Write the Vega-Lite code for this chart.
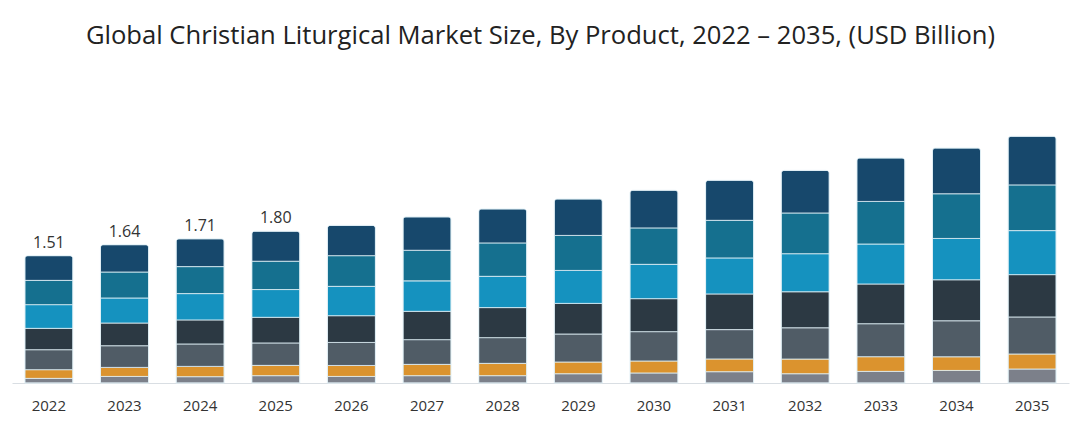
{
  "$schema": "https://vega.github.io/schema/vega-lite/v6.json",
  "description": "Global Christian Liturgical Market Size, By Product, 2022-2035",
  "width": 1057,
  "height": 253,
  "autosize": {"type": "none"},
  "padding": {"left": 12, "top": 130, "right": 11, "bottom": 48},
  "background": "#ffffff",
  "title": {
    "text": "Global Christian Liturgical Market Size, By Product, 2022 – 2035, (USD Billion)",
    "font": "Open Sans",
    "fontSize": 25.6,
    "fontWeight": "normal",
    "color": "#222222",
    "anchor": "middle",
    "offset": 80
  },
  "config": {"view": {"stroke": null}, "font": "Open Sans"},
  "data": {
    "values": [
      {"year": "2022", "p1": 0.055, "p2": 0.103, "p3": 0.237, "p4": 0.253, "p5": 0.281, "p6": 0.288, "p7": 0.293},
      {"year": "2023", "p1": 0.078, "p2": 0.107, "p3": 0.257, "p4": 0.269, "p5": 0.297, "p6": 0.308, "p7": 0.324},
      {"year": "2024", "p1": 0.075, "p2": 0.122, "p3": 0.266, "p4": 0.285, "p5": 0.312, "p6": 0.320, "p7": 0.330},
      {"year": "2025", "p1": 0.087, "p2": 0.122, "p3": 0.266, "p4": 0.304, "p5": 0.329, "p6": 0.336, "p7": 0.356},
      {"year": "2026", "p1": 0.078, "p2": 0.130, "p3": 0.273, "p4": 0.317, "p5": 0.348, "p6": 0.364, "p7": 0.359},
      {"year": "2027", "p1": 0.087, "p2": 0.134, "p3": 0.293, "p4": 0.336, "p5": 0.361, "p6": 0.363, "p7": 0.396},
      {"year": "2028", "p1": 0.087, "p2": 0.146, "p3": 0.305, "p4": 0.356, "p5": 0.371, "p6": 0.396, "p7": 0.403},
      {"year": "2029", "p1": 0.110, "p2": 0.139, "p3": 0.332, "p4": 0.363, "p5": 0.391, "p6": 0.415, "p7": 0.432},
      {"year": "2030", "p1": 0.119, "p2": 0.142, "p3": 0.348, "p4": 0.391, "p5": 0.407, "p6": 0.432, "p7": 0.446},
      {"year": "2031", "p1": 0.134, "p2": 0.151, "p3": 0.348, "p4": 0.423, "p5": 0.427, "p6": 0.446, "p7": 0.474},
      {"year": "2032", "p1": 0.110, "p2": 0.174, "p3": 0.371, "p4": 0.427, "p5": 0.451, "p6": 0.483, "p7": 0.505},
      {"year": "2033", "p1": 0.138, "p2": 0.174, "p3": 0.391, "p4": 0.471, "p5": 0.474, "p6": 0.505, "p7": 0.515},
      {"year": "2034", "p1": 0.149, "p2": 0.162, "p3": 0.427, "p4": 0.486, "p5": 0.490, "p6": 0.530, "p7": 0.542},
      {"year": "2035", "p1": 0.166, "p2": 0.178, "p3": 0.439, "p4": 0.502, "p5": 0.522, "p6": 0.542, "p7": 0.576}
    ]
  },
  "encoding": {
    "x": {
      "field": "year",
      "type": "ordinal",
      "scale": {"paddingInner": 0.365, "paddingOuter": 0.17},
      "axis": {
        "title": null,
        "labelAngle": 0,
        "labelFontSize": 15,
        "labelColor": "#333333",
        "labelPadding": 15,
        "ticks": false,
        "domainColor": "#d9dee3",
        "domainWidth": 1
      }
    }
  },
  "layer": [
    {
      "transform": [
        {"fold": ["p1", "p2", "p3", "p4", "p5", "p6", "p7"], "as": ["product", "value"]}
      ],
      "mark": {
        "type": "bar",
        "cornerRadiusTopLeft": 3,
        "cornerRadiusTopRight": 3,
        "stroke": "#dff0f6",
        "strokeWidth": 0.8
      },
      "encoding": {
        "y": {
          "field": "value",
          "type": "quantitative",
          "stack": "zero",
          "scale": {"domain": [0, 3]},
          "axis": null
        },
        "color": {
          "field": "product",
          "type": "nominal",
          "scale": {
            "domain": ["p1", "p2", "p3", "p4", "p5", "p6", "p7"],
            "range": ["#7c808a", "#db932e", "#505c66", "#2c3943", "#1592bf", "#15708f", "#17486c"]
          },
          "legend": null
        },
        "order": {"field": "product", "type": "ordinal", "sort": "ascending"}
      }
    },
    {
      "data": {
        "values": [
          {"year": "2022", "total": 1.51},
          {"year": "2023", "total": 1.64},
          {"year": "2024", "total": 1.71},
          {"year": "2025", "total": 1.80}
        ]
      },
      "mark": {"type": "text", "baseline": "alphabetic", "dy": -8, "fontSize": 16, "color": "#333333"},
      "encoding": {
        "y": {"field": "total", "type": "quantitative"},
        "text": {"field": "total", "type": "quantitative", "format": ".2f"}
      }
    }
  ]
}
